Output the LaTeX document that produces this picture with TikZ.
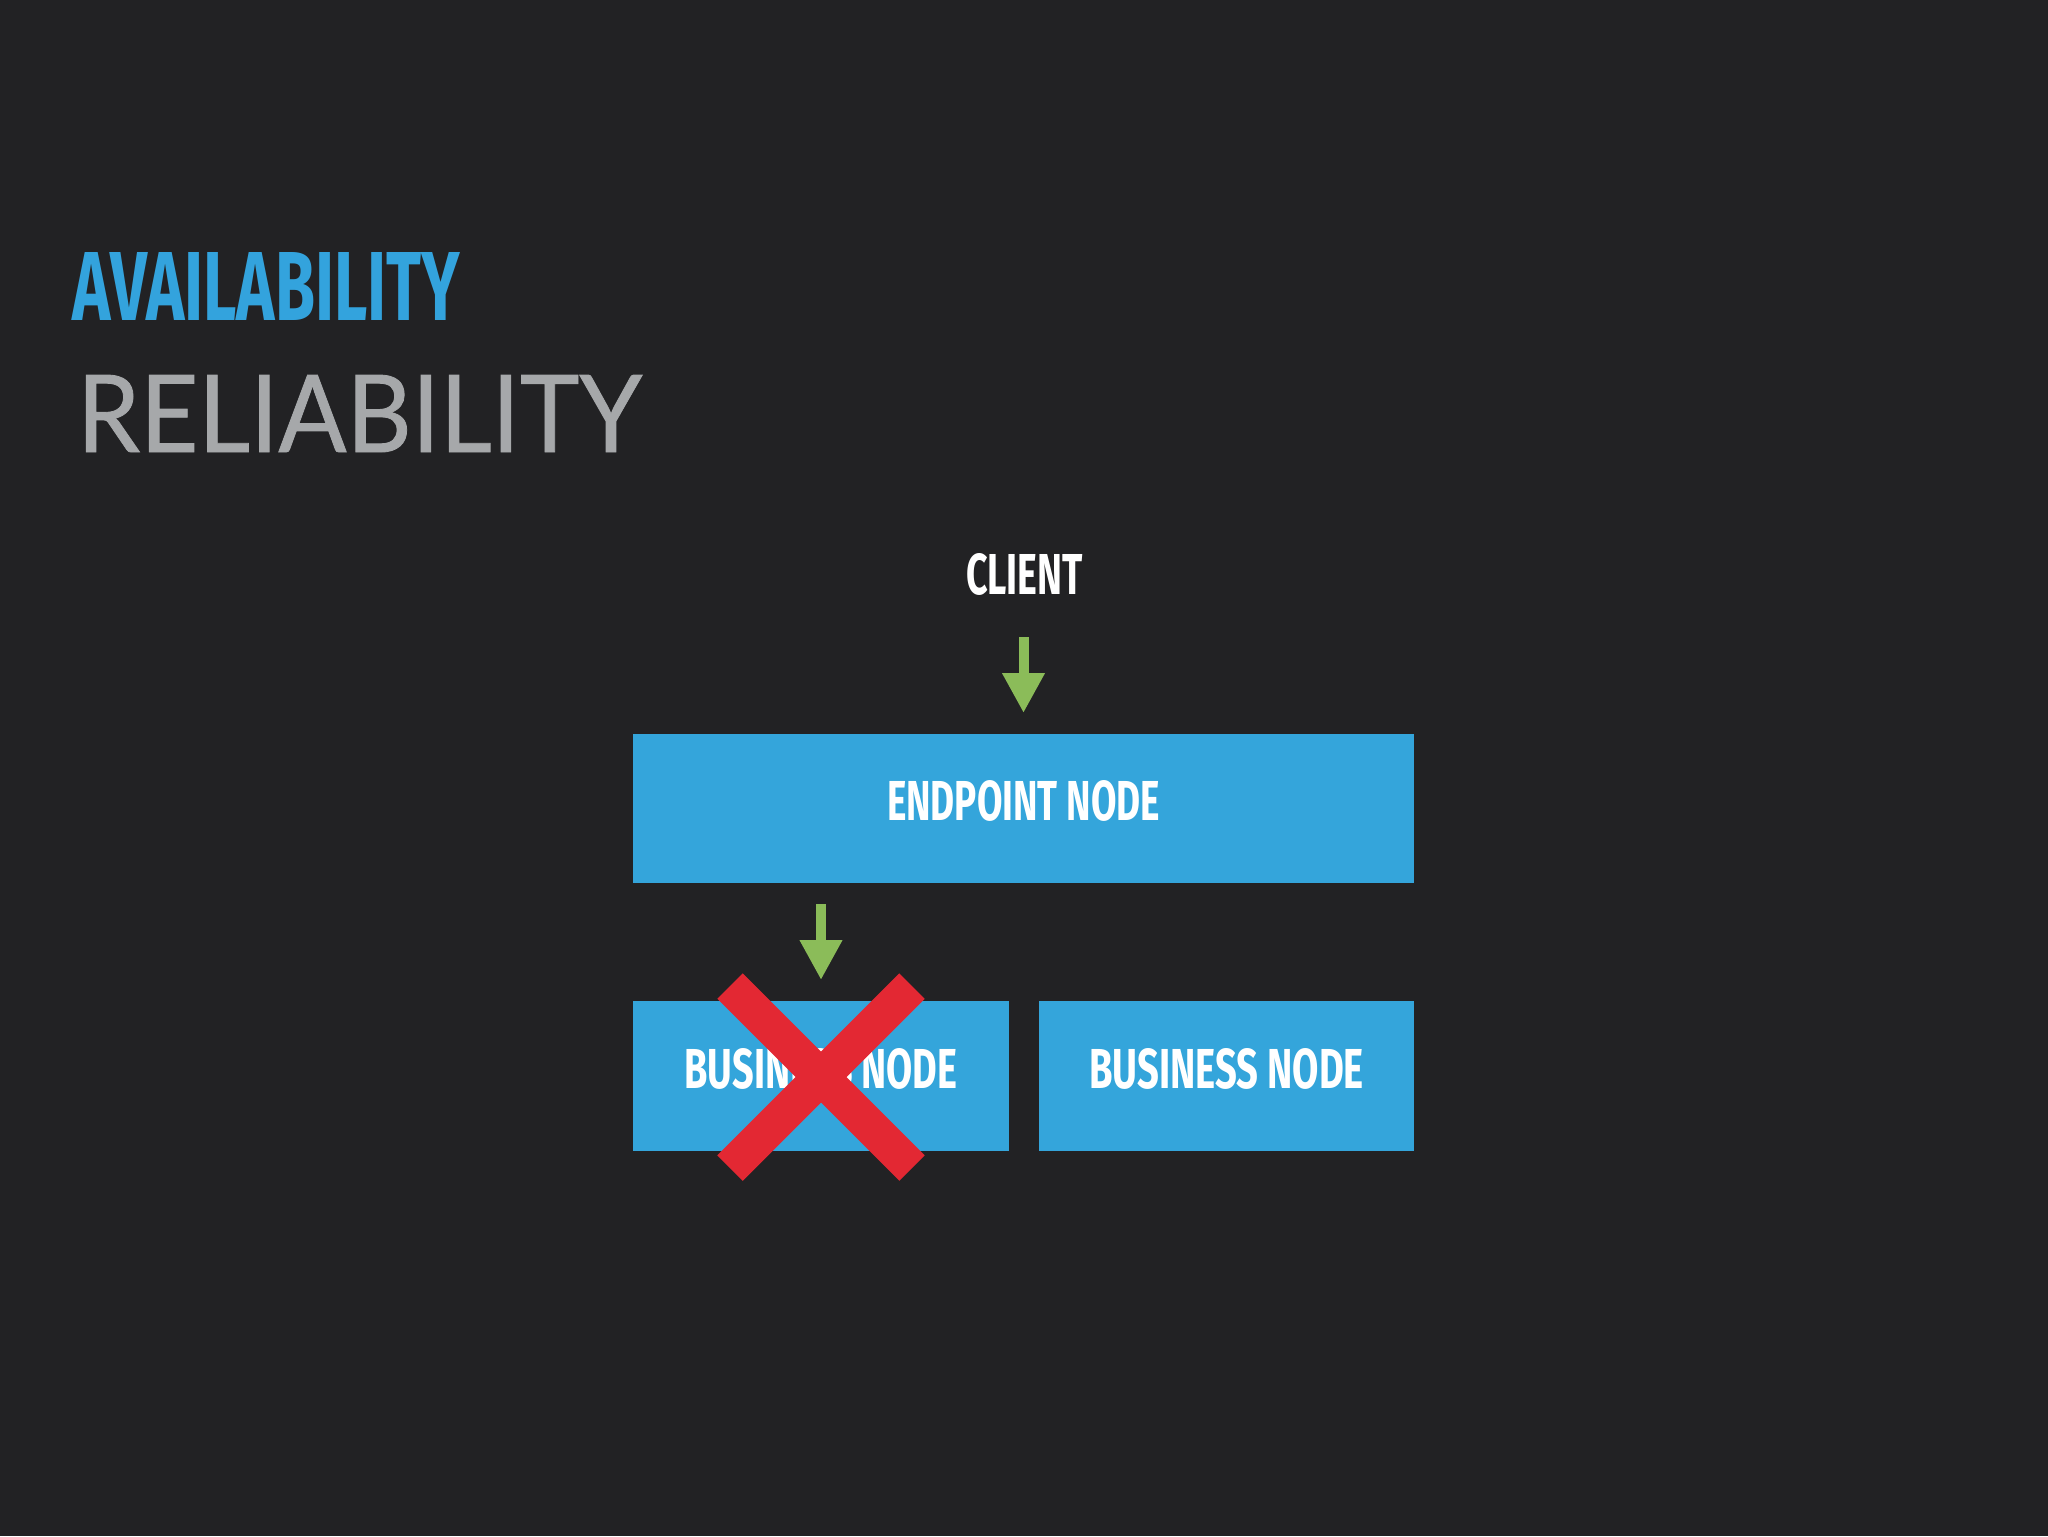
\documentclass[tikz,border=0pt]{standalone}
\usepackage{fontspec}
\usepackage{graphicx}
\usetikzlibrary{arrows.meta}
\newfontfamily\condfont{Fira Sans}
\newfontfamily\widefont[FakeBold=0.8]{Lato}
\definecolor{bgc}{HTML}{222224}
\definecolor{boxblue}{HTML}{34A5DB}
\definecolor{titleblue}{HTML}{33A3DD}
\definecolor{titlegray}{HTML}{A6A8AA}
\definecolor{arrgreen}{HTML}{8BBC59}
\definecolor{xred}{HTML}{E32833}
\newcommand{\fitbox}[3]{\resizebox{#1}{#2}{#3}}
\newcommand{\boxtext}[2]{\raisebox{0.8mm}[4mm][0pt]{\resizebox{#1}{4mm}{\condfont\bfseries #2}}}
\tikzset{
  txt/.style={inner sep=0pt, outer sep=0pt, anchor=north west},
  nodebox/.style={fill=boxblue, inner sep=0pt, outer sep=0pt, text=white},
  arr/.style={draw=arrgreen, line width=1mm, -{Triangle[length=4mm,width=4mm]}},
  xmark/.style={draw=xred, line width=3.6mm, line cap=butt}
}
\begin{document}
\begin{tikzpicture}[x=0.1mm,y=-0.1mm]
\fill[bgc] (0,0) rectangle (2048,1536);
\useasboundingbox (0,0) rectangle (2048,1536);

\node[txt, text=titleblue] (avail) at (73,252) {\fitbox{38.7mm}{6.8mm}{\condfont\bfseries AVAILABILITY}};
\node[txt, text=titlegray] (rel) at (77,375) {\fitbox{56.5mm}{7.7mm}{\widefont RELIABILITY}};

\node[txt, text=white] (client) at (966,553) {\fitbox{11.7mm}{4.1mm}{\condfont\bfseries CLIENT}};

\node[nodebox, minimum width=78.1mm, minimum height=14.9mm] (ep) at (1023.5,808.5) {\boxtext{27.3mm}{ENDPOINT NODE}};
\node[nodebox, minimum width=37.6mm, minimum height=15.0mm] (b1) at (821,1076) {\boxtext{27.3mm}{BUSINESS NODE}};
\node[nodebox, minimum width=37.5mm, minimum height=15.0mm] (b2) at (1226.5,1076) {\boxtext{27.5mm}{BUSINESS NODE}};

\draw[arr, shorten <=4.2mm, shorten >=2.1mm] (client.south -| ep.north) -- (ep.north);
\draw[arr, shorten <=2.1mm, shorten >=2.1mm] (b1.north |- ep.south) -- (b1.north);

\draw[xmark] ([shift={(-91,-90)}]b1.center) -- ([shift={(91,92)}]b1.center);
\draw[xmark] ([shift={(91,-90)}]b1.center) -- ([shift={(-91,92)}]b1.center);
\end{tikzpicture}
\end{document}
